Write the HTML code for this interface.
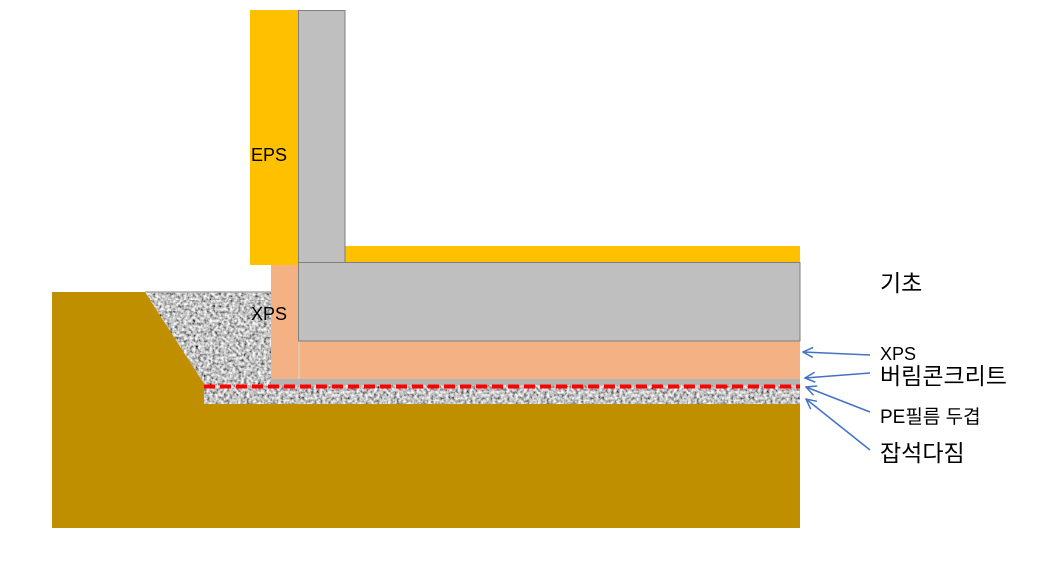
<!DOCTYPE html>
<html><head><meta charset="utf-8"><style>
body{margin:0;background:#fff}
text{font-family:"Liberation Sans","Noto Sans CJK KR",sans-serif}
</style></head><body>
<svg width="1060" height="559" viewBox="0 0 1060 559" xmlns="http://www.w3.org/2000/svg">
<defs>
<filter id="n" x="0" y="0" width="100%" height="100%">
<feTurbulence type="fractalNoise" baseFrequency="0.35" numOctaves="3" seed="3"/>
<feColorMatrix type="matrix" values="1.6 0 0 0 -0.25  1.6 0 0 0 -0.25  1.6 0 0 0 -0.25  0 0 0 0 1"/>
</filter>
<pattern id="g" width="150" height="150" patternUnits="userSpaceOnUse">
<rect width="150" height="150" filter="url(#n)" fill="#fff"/>
</pattern>
<marker id="a" markerWidth="12" markerHeight="12" refX="11" refY="6" orient="auto" markerUnits="userSpaceOnUse">
<path d="M1,1 L11,6 L1,11" fill="none" stroke="#4472c4" stroke-width="1.5"/>
</marker>
</defs>
<rect x="52" y="292" width="748" height="236" fill="#bf8f00"/>
<polygon points="145,292 271,292 271,384 204,384" fill="url(#g)"/>
<rect x="204" y="384" width="596" height="20" fill="url(#g)"/>
<line x1="145" y1="292" x2="271" y2="292" stroke="#aaa" stroke-width="1.5"/>
<rect x="271" y="379" width="529" height="6" fill="#b4b4b4"/>
<line x1="204" y1="386.5" x2="800" y2="386.5" stroke="#ff0000" stroke-width="4" stroke-dasharray="11,5"/>
<rect x="271" y="265" width="27" height="114" fill="#f4b183"/>
<rect x="298" y="341" width="502" height="38" fill="#f4b183"/>
<line x1="299" y1="341" x2="299" y2="379" stroke="#d9d9d9" stroke-width="1"/>
<rect x="250" y="10" width="48" height="255" fill="#ffc000"/>
<rect x="345" y="246" width="455" height="16" fill="#ffc000"/>
<rect x="298.5" y="10.5" width="46.5" height="252" fill="#bfbfbf" stroke="#7f7f7f"/>
<rect x="298.5" y="262.5" width="501.5" height="78.5" fill="#bfbfbf" stroke="#7f7f7f"/>
<text x="251" y="161" font-size="18">EPS</text>
<text x="251" y="320" font-size="18">XPS</text>
<text x="880" y="291" font-size="23">기초</text>
<text x="880" y="360" font-size="18">XPS</text>
<text x="880" y="384" font-size="23">버림콘크리트</text>
<text x="880" y="423" font-size="19">PE필름 두겹</text>
<text x="880" y="461" font-size="23">잡석다짐</text>
<g stroke="#4472c4" stroke-width="1.5" fill="none">
<line x1="870" y1="355" x2="803" y2="352" marker-end="url(#a)"/>
<line x1="870" y1="373" x2="805" y2="378" marker-end="url(#a)"/>
<line x1="870" y1="412" x2="806" y2="387" marker-end="url(#a)"/>
<line x1="870" y1="450" x2="806" y2="399" marker-end="url(#a)"/>
</g>
</svg>
</body></html>
